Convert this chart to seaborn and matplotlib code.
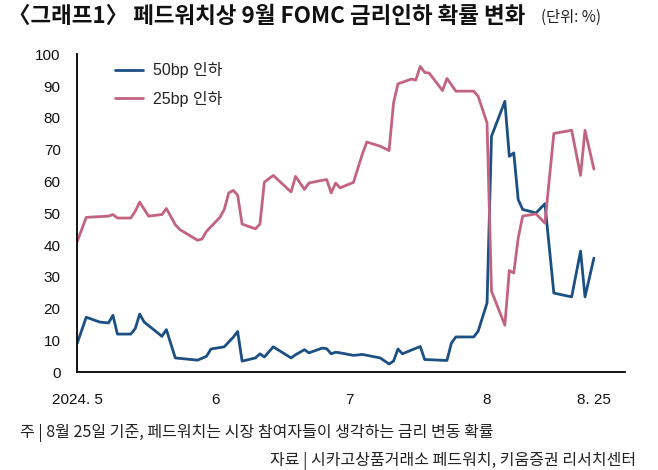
import pandas as pd
import matplotlib
matplotlib.use("Agg")
import matplotlib.pyplot as plt
import seaborn as sns

# 50bp cut probability (%)
cut50_dates = ["05-01", "05-03", "05-06", "05-08", "05-09", "05-10", "05-13", "05-14", "05-15", "05-16",
               "05-20", "05-21", "05-23", "05-28", "05-30", "05-31",
               "06-03", "06-05", "06-06", "06-07", "06-10", "06-11", "06-12", "06-14", "06-18", "06-19",
               "06-21", "06-22", "06-25", "06-26", "06-27", "06-28", "06-29",
               "07-02", "07-04", "07-08", "07-10", "07-11", "07-12", "07-13", "07-17", "07-18", "07-23",
               "07-24", "07-25", "07-29", "07-30",
               "08-01", "08-02", "08-05", "08-06", "08-07", "08-08", "08-09", "08-12", "08-14", "08-16",
               "08-20", "08-22", "08-23", "08-25"]
cut50 = [9.2, 17.3, 15.8, 15.5, 17.9, 12.0, 12.0, 13.7, 18.3, 15.8, 11.3, 13.4, 4.5, 3.8, 5.0, 7.3,
         8.0, 11.0, 12.8, 3.5, 4.5, 5.8, 4.8, 8.0, 4.5, 5.5, 7.1, 6.1, 7.6, 7.4, 5.8, 6.3, 6.1,
         5.3, 5.6, 4.5, 2.6, 3.5, 7.3, 5.8, 8.1, 4.0, 3.7, 9.2, 11.1, 11.1, 12.9,
         21.8, 74.2, 85.2, 67.9, 69.0, 54.3, 51.2, 50.1, 53.0, 24.9, 23.7, 38.1, 23.7, 35.9]

# 25bp cut probability (%)
cut25_dates = ["05-01", "05-03", "05-08", "05-09", "05-10", "05-13", "05-14", "05-15", "05-17", "05-20",
               "05-21", "05-23", "05-24", "05-28", "05-29", "05-30",
               "06-02", "06-03", "06-04", "06-05", "06-06", "06-07", "06-10", "06-11", "06-12", "06-14",
               "06-18", "06-19", "06-21", "06-22", "06-24", "06-26", "06-27", "06-28", "06-29",
               "07-02", "07-04", "07-05", "07-08", "07-10", "07-11", "07-12", "07-15", "07-16", "07-17",
               "07-18", "07-19", "07-22", "07-23", "07-25", "07-29", "07-30",
               "08-01", "08-02", "08-05", "08-06", "08-07", "08-08", "08-09", "08-12", "08-14", "08-16",
               "08-20", "08-22", "08-23", "08-25"]
cut25 = [41.2, 48.7, 49.1, 49.6, 48.5, 48.5, 50.6, 53.5, 49.1, 49.6, 51.5, 46.4, 44.9, 41.5, 41.9, 44.3,
         48.7, 51.2, 56.4, 57.2, 55.7, 46.6, 45.1, 46.6, 59.8, 61.9, 56.7, 61.6, 57.5, 59.5, 60.1,
         60.6, 56.4, 59.5, 58.0,
         59.7, 68.6, 72.4, 71.1, 69.7, 84.7, 90.7, 92.2, 91.9, 96.2, 94.3, 94.1, 88.6, 92.4, 88.4,
         88.4, 86.8,
         78.4, 25.5, 14.8, 32.0, 31.2, 42.2, 49.1, 49.8, 46.9, 75.1, 76.1, 61.9, 76.1, 63.9]

tick_dates = ["05-01", "06-01", "07-01", "08-01", "08-25"]
tick_labels = ["2024. 5", "6", "7", "8", "8. 25"]

df50 = pd.DataFrame({"date": pd.to_datetime(["2024-" + d for d in cut50_dates]), "prob": cut50})
df25 = pd.DataFrame({"date": pd.to_datetime(["2024-" + d for d in cut25_dates]), "prob": cut25})

sns.set_style("white")
plt.rcParams["font.family"] = ["Liberation Sans", "Noto Sans CJK KR"]

blue = "#1c4f82"
pink = "#c2637f"

fig = plt.figure(figsize=(6.58, 4.70), dpi=100)
ax = fig.add_axes([0.1175, 0.208, 0.8325, 0.6765])

sns.lineplot(data=df50, x="date", y="prob", ax=ax, color=blue, linewidth=2.0, label="50bp 인하")
sns.lineplot(data=df25, x="date", y="prob", ax=ax, color=pink, linewidth=2.0, label="25bp 인하")

ax.set_xlim(pd.Timestamp("2024-05-01"), pd.Timestamp("2024-09-01"))
ax.set_ylim(0, 100)
ax.set_yticks(range(0, 101, 10))
ax.set_xticks(pd.to_datetime(["2024-" + d for d in tick_dates]))
ax.set_xticklabels(tick_labels)
ax.set_xlabel("")
ax.set_ylabel("")

for s in ["top", "right"]:
    ax.spines[s].set_visible(False)
for s in ["left", "bottom"]:
    ax.spines[s].set_color("black")
    ax.spines[s].set_linewidth(1.3)
ax.tick_params(axis="both", direction="out", length=5, width=1.2, color="black",
               labelsize=11, labelcolor="#111111")
ax.tick_params(axis="y", pad=7)
ax.tick_params(axis="x", pad=10)

leg = ax.legend(loc="upper left", bbox_to_anchor=(0.069, 0.975), frameon=False,
                fontsize=11.5, handlelength=1.75, handletextpad=0.6, labelspacing=0.8,
                borderpad=0, borderaxespad=0)
for t in leg.get_texts():
    t.set_color("#222222")

cjk = ["Noto Sans CJK KR", "DejaVu Sans"]
fig.text(8 / 658, 1 - 16 / 470, "〈그래프1〉 페드워치상 9월 FOMC 금리인하 확률 변화",
         family=cjk, fontsize=16.2, fontweight="bold", va="center", ha="left", color="#111111")
fig.text(541 / 658, 1 - 17 / 470, "(단위: %)", family=cjk, fontsize=11,
         va="center", ha="left", color="#222222")
fig.text(20 / 658, 1 - 433 / 470, "주 | 8월 25일 기준, 페드워치는 시장 참여자들이 생각하는 금리 변동 확률",
         family=cjk, fontsize=11.5, va="center", ha="left", color="#222222")
fig.text(636 / 658, 1 - 461 / 470, "자료 | 시카고상품거래소 페드워치, 키움증권 리서치센터",
         family=cjk, fontsize=11.5, va="center", ha="right", color="#222222")

fig.savefig("out.png", dpi=100)
